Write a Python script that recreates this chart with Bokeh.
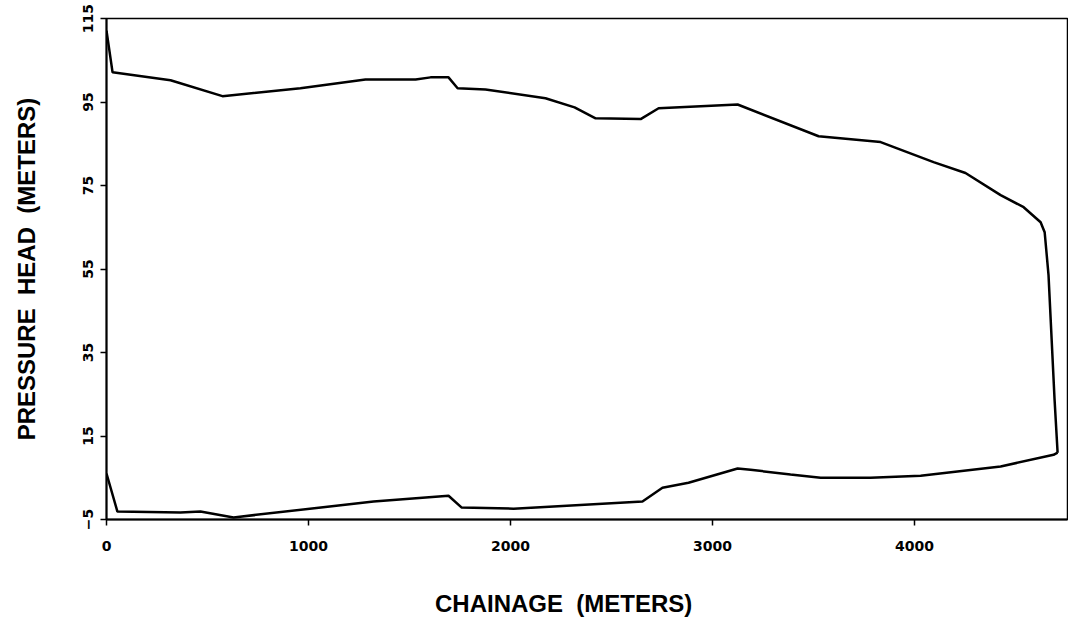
from bokeh.plotting import figure
from bokeh.models import FixedTicker, Range1d
from bokeh.embed import file_html
from bokeh.resources import INLINE

# Upper envelope (maximum pressure head)
upper_x = [0, 30, 317, 574, 960, 1282, 1530, 1604, 1693, 1738, 1876, 2173, 2317, 2421,
           2644, 2733, 3124, 3525, 3832, 4094, 4252, 4426, 4540, 4624, 4644, 4663, 4693, 4708]
upper_y = [112.1, 102.1, 100.2, 96.4, 98.3, 100.4, 100.4, 100.9, 100.9, 98.3, 98.0, 95.9, 93.7, 91.1,
           90.9, 93.5, 94.4, 86.8, 85.4, 80.6, 78.0, 72.7, 69.8, 66.2, 63.8, 53.6, 23.7, 11.0]

# Lower envelope (minimum pressure head)
lower_x = [0, 54, 366, 465, 629, 1322, 1693, 1757, 2015, 2653, 2752, 2881, 3124, 3188,
           3386, 3535, 3782, 4030, 4426, 4688, 4708]
lower_y = [6.0, -3.1, -3.3, -3.1, -4.5, -0.7, 0.7, -2.1, -2.4, -0.7, 2.6, 3.8, 7.2, 6.9,
           5.8, 5.0, 5.0, 5.5, 7.7, 10.5, 11.0]

x_ticks = [0, 1000, 2000, 3000, 4000]
y_ticks = [-5, 15, 35, 55, 75, 95, 115]

LABEL_FONT = "Liberation Sans"
TICK_FONT = "DejaVu Sans"

p = figure(width=1068, height=619, output_backend="svg", toolbar_location=None,
           x_range=Range1d(0, 4757), y_range=Range1d(-5, 115),
           min_border_left=106, min_border_right=1, min_border_top=18, min_border_bottom=60)

p.line(upper_x, upper_y, line_color="black", line_width=2.5)
p.line(lower_x, lower_y, line_color="black", line_width=2.5)

p.grid.visible = False
p.outline_line_color = "black"
p.outline_line_width = 1.5
p.outline_line_alpha = 1.0

p.xaxis.ticker = FixedTicker(ticks=x_ticks)
p.yaxis.ticker = FixedTicker(ticks=y_ticks)
p.xaxis.minor_tick_line_color = None
p.yaxis.minor_tick_line_color = None

for ax in (p.xaxis, p.yaxis):
    ax.axis_line_color = "black"
    ax.axis_line_width = 2
    ax.major_tick_line_color = "black"
    ax.major_tick_line_width = 1.5
    ax.major_tick_out = 6
    ax.major_tick_in = 0
    ax.major_label_text_font = TICK_FONT
    ax.major_label_text_font_style = "bold"
    ax.major_label_text_font_size = "14px"
    ax.major_label_text_color = "black"
    ax.axis_label_text_font = LABEL_FONT
    ax.axis_label_text_font_style = "bold"
    ax.axis_label_text_font_size = "24px"
    ax.axis_label_text_color = "black"

# trailing no-break spaces move the centred label left, as in the original
p.xaxis.axis_label = "CHAINAGE\u00a0\u00a0(METERS)" + "\u00a0" * 7
p.yaxis.axis_label = "PRESSURE\u00a0\u00a0HEAD\u00a0\u00a0(METERS)"
p.yaxis.major_label_orientation = "vertical"
p.xaxis.major_label_standoff = 15
p.yaxis.major_label_standoff = 8
p.xaxis.axis_label_standoff = 36
p.yaxis.axis_label_standoff = 40

open("out.html", "w").write(file_html(p, INLINE))
